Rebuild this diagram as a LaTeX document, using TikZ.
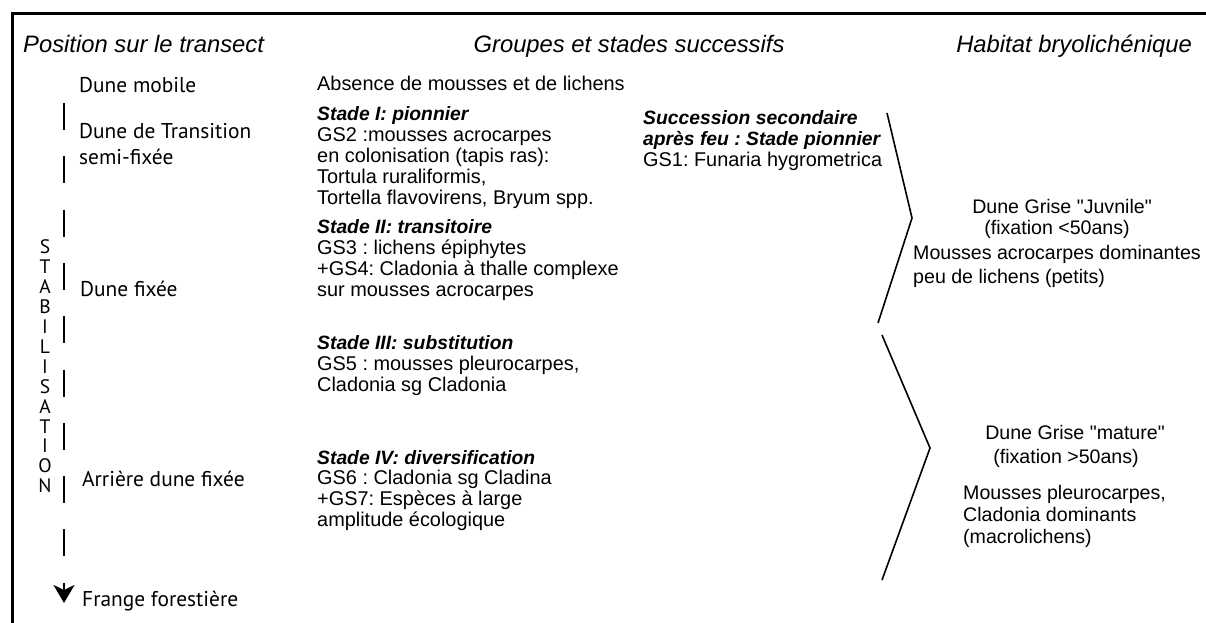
\documentclass[tikz,border=0pt]{standalone}
\usepackage{fontspec}
\setmainfont{Liberation Sans}
\newfontfamily\myriad{PT Sans}
\newfontfamily\rawsans[Ligatures=ResetAll]{Liberation Sans}
\usetikzlibrary{arrows.meta}
\usetikzlibrary{positioning}
\frenchspacing
\tikzset{
  headtext/.style={inner sep=0, font=\fontsize{23.8}{28}\selectfont\itshape},
  bodytext/.style={inner sep=0, anchor=base west, align=left, font=\fontsize{19.9}{20.8}\selectfont},
  righttext/.style={inner sep=0, align=left, font=\fontsize{19.6}{22}\selectfont},
  posntext/.style={inner sep=0, anchor=base west, align=left, font=\myriad\fontsize{21.4}{25.5}\selectfont},
  bracket/.style={line width=1.6pt, line join=miter},
  arrow/.style={line width=2.4pt, dash pattern=on 27pt off 26.3pt,
    -{Stealth[length=18pt, width=21pt, inset=5pt]}}
}
\newcommand{\stade}[1]{{\fontsize{19.3}{20.8}\selectfont\bfseries\itshape #1}}
\newcommand{\dq}{{\rawsans"}}
\begin{document}
\begin{tikzpicture}[x=1pt, y=-1pt]
  \useasboundingbox (0,0) rectangle (1206,623);
  \draw[line width=2.6pt] (12.5,623) -- (12.5,13.5) -- (1206,13.5);

  \node[headtext, anchor=base west] (hpos) at (23,52.5) {Position sur le transect};
  \node[headtext, anchor=base] (hgrp) at (629,52.5) {Groupes et stades successifs};
  \node[headtext, anchor=base east] (hhab) at (1192,52.5) {Habitat bryolichénique};

  \node[posntext] (mobile) at (79,93) {Dune mobile};
  \node[posntext] (transition) at (79,164) {Dune de Transition\\semi-fixée};
  \node[posntext] (fixee) at (80,296.5) {Dune fixée};
  \node[posntext] (arriere) at (82,486.5) {Arrière dune fixée};
  \node[posntext] (frange) at (82,606.5) {Frange forestière};

  \node[inner sep=0, align=center, font=\myriad\fontsize{19.5}{19.9}\selectfont] (stab) at (45,366.5)
    {S\\T\\A\\B\\I\\L\\I\\S\\A\\T\\I\\O\\N};
  \coordinate (dtop) at (64,103);
  \coordinate (dbot) at (64,603);
  \draw[arrow] (dtop) -- (dbot);

  \node[bodytext] (absence) at (317,91) {Absence de mousses et de lichens};
  \node[bodytext] (stadeI) at (317,204) {\stade{Stade I: pionnier}\\GS2 :mousses acrocarpes\\en colonisation (tapis ras):\\Tortula ruraliformis,\\Tortella flavovirens, Bryum spp.};
  \node[bodytext] (stadeII) at (317,296) {\stade{Stade II: transitoire}\\GS3 : lichens épiphytes\\+GS4: Cladonia à thalle complexe\\sur mousses acrocarpes};
  \node[bodytext] (stadeIII) at (317,391.5) {\stade{Stade III: substitution}\\GS5 : mousses pleurocarpes,\\Cladonia sg Cladonia};
  \node[bodytext] (stadeIV) at (317,526.5) {\stade{Stade IV: diversification}\\GS6 : Cladonia sg Cladina\\+GS7: Espèces à large\\amplitude écologique};
  \node[bodytext] (secondaire) at (643,166.5) {\stade{Succession secondaire}\\\stade{après feu : Stade pionnier}\\GS1: Funaria hygrometrica};

  \draw[bracket] (887,113) -- (912,218) -- (878,323);
  \draw[bracket] (882,335) -- (930,448) -- (882,580);

  \node[righttext, anchor=base] (juv) at (1062,213.5) {Dune Grise \dq Juvnile\dq};
  \node[righttext, anchor=base] (fixjuv) at (1057,234.5) {(fixation <50ans)};
  \node[righttext, anchor=base west, font=\fontsize{19.6}{24}\selectfont] (acro) at (913,283.5) {Mousses acrocarpes dominantes\\peu de lichens (petits)};
  \node[righttext, anchor=base] (mat) at (1075,439.5) {Dune Grise \dq mature\dq};
  \node[righttext, anchor=base] (fixmat) at (1066,463.5) {(fixation >50ans)};
  \node[righttext, anchor=base west] (pleuro) at (963,543.5) {Mousses pleurocarpes,\\Cladonia dominants\\(macrolichens)};
\end{tikzpicture}
\end{document}
